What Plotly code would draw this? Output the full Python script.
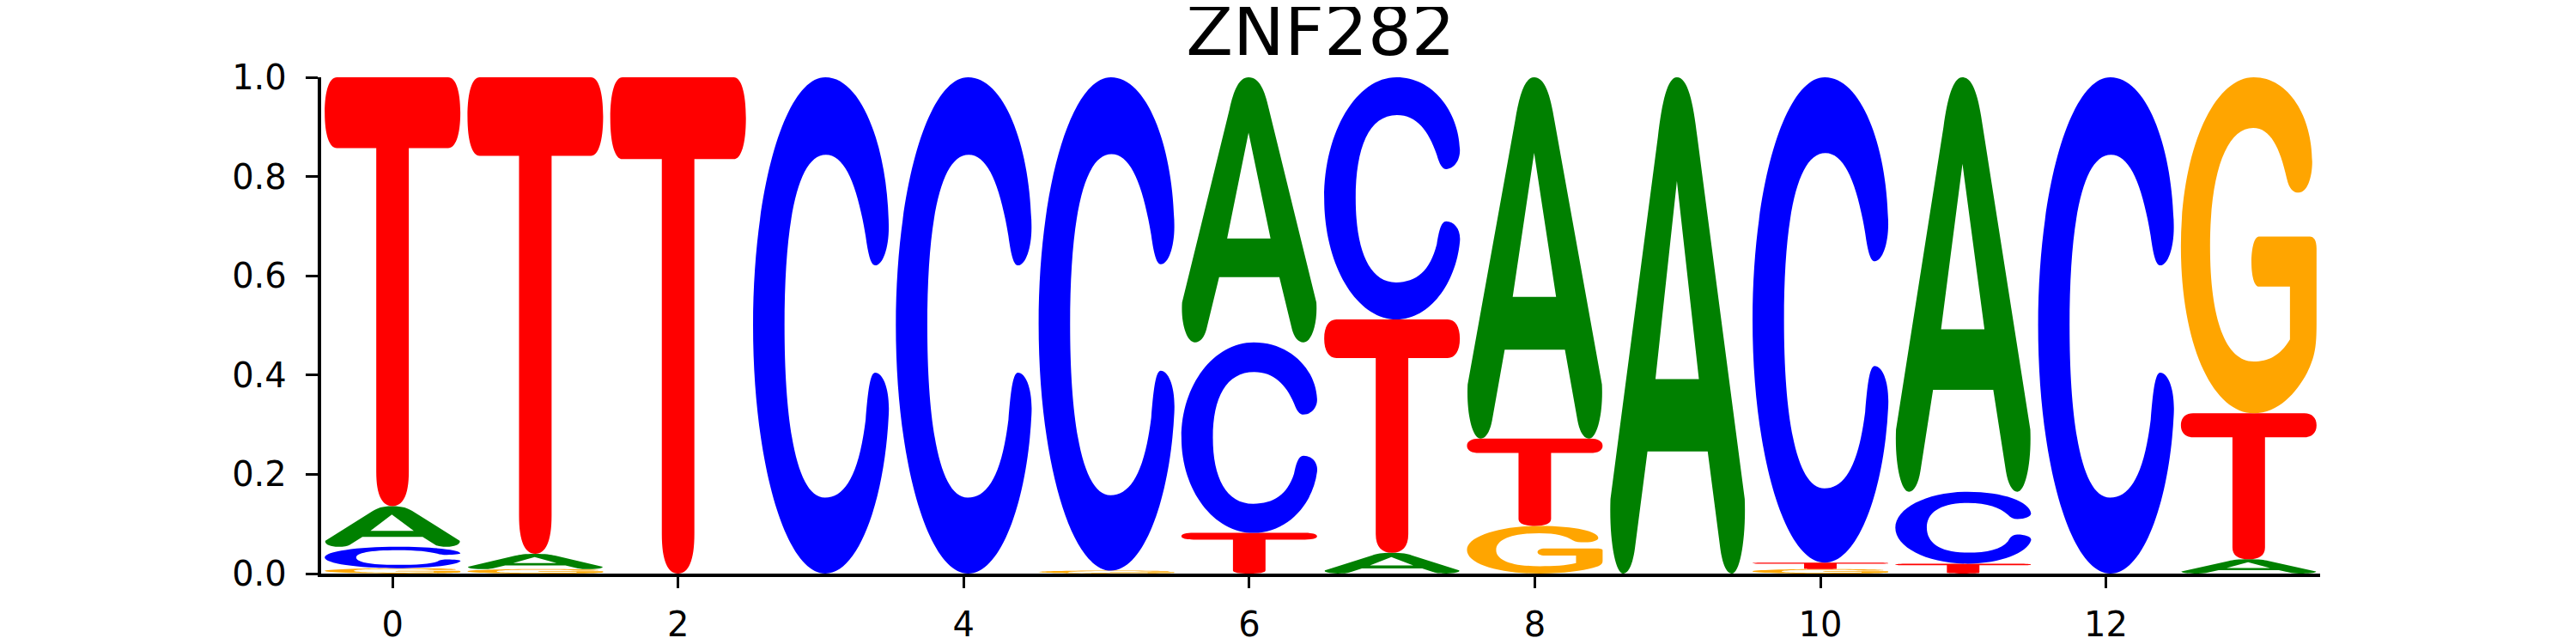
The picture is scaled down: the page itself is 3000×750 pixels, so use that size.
import plotly.graph_objects as go

# probability of each base at each position
positions = list(range(14))
bases = ['A', 'C', 'G', 'T']
prob_A = [0.082, 0.031, 0.000, 0.000, 0.000, 0.000, 0.534, 0.042, 0.728, 1.000, 0.000, 0.835, 0.000, 0.029]
prob_C = [0.043, 0.000, 0.000, 1.000, 1.000, 0.994, 0.384, 0.488, 0.000, 0.000, 0.978, 0.145, 1.000, 0.000]
prob_G = [0.011, 0.009, 0.000, 0.000, 0.000, 0.006, 0.000, 0.000, 0.096, 0.000, 0.009, 0.000, 0.000, 0.677]
prob_T = [0.864, 0.960, 1.000, 0.000, 0.000, 0.000, 0.082, 0.470, 0.176, 0.000, 0.013, 0.020, 0.000, 0.294]
x_ticks = [0, 2, 4, 6, 8, 10, 12]
y_ticks = [0.0, 0.2, 0.4, 0.6, 0.8, 1.0]
title = 'ZNF282'

probs = {'A': prob_A, 'C': prob_C, 'G': prob_G, 'T': prob_T}
colors = {'A': '#008000', 'C': '#0000ff', 'G': '#ffa500', 'T': '#ff0000'}
LETTER_W = 0.95

# glyph outlines in a unit box (u across, v up)
GLYPHS = {
    'T': [
        ('M', [(0.09, 1)]), ('L', [(0.91, 1)]),
        ('C', [(0.965, 1), (1, 0.97), (1, 0.9175)]),
        ('C', [(1, 0.865), (0.965, 0.835), (0.91, 0.835)]),
        ('L', [(0.62, 0.835)]), ('L', [(0.62, 0.08)]),
        ('C', [(0.62, 0.025), (0.575, 0), (0.5, 0)]),
        ('C', [(0.425, 0), (0.38, 0.025), (0.38, 0.08)]),
        ('L', [(0.38, 0.835)]), ('L', [(0.09, 0.835)]),
        ('C', [(0.035, 0.835), (0, 0.865), (0, 0.9175)]),
        ('C', [(0, 0.97), (0.035, 1), (0.09, 1)]),
        ('Z', []),
    ],
    'A': [
        ('M', [(0.495, 1)]),
        ('C', [(0.575, 1), (0.615, 0.95), (0.645, 0.88)]),
        ('L', [(0.995, 0.15)]),
        ('C', [(1.005, 0.07), (0.96, 0), (0.9, 0)]),
        ('C', [(0.86, 0), (0.83, 0.02), (0.815, 0.05)]),
        ('L', [(0.722, 0.246)]), ('L', [(0.278, 0.246)]), ('L', [(0.185, 0.05)]),
        ('C', [(0.17, 0.02), (0.14, 0), (0.1, 0)]),
        ('C', [(0.04, 0), (-0.005, 0.07), (0.005, 0.15)]),
        ('L', [(0.355, 0.88)]),
        ('C', [(0.385, 0.95), (0.425, 1), (0.495, 1)]),
        ('Z', []),
        ('M', [(0.495, 0.791)]), ('L', [(0.657, 0.392)]), ('L', [(0.337, 0.392)]),
        ('Z', []),
    ],
    'C': [
        ('M', [(0.533, 1)]),
        ('C', [(0.239, 1), (0, 0.776), (0, 0.5)]),
        ('C', [(0, 0.224), (0.239, 0), (0.533, 0)]),
        ('C', [(0.78, 0), (0.97, 0.15), (1, 0.32)]),
        ('C', [(1.01, 0.37), (0.96, 0.405), (0.9, 0.405)]),
        ('C', [(0.86, 0.405), (0.845, 0.36), (0.83, 0.31)]),
        ('C', [(0.78, 0.2), (0.68, 0.153), (0.53, 0.153)]),
        ('C', [(0.33, 0.153), (0.232, 0.29), (0.232, 0.5)]),
        ('C', [(0.232, 0.71), (0.33, 0.844), (0.537, 0.844)]),
        ('C', [(0.68, 0.844), (0.77, 0.78), (0.83, 0.68)]),
        ('C', [(0.85, 0.64), (0.87, 0.621), (0.9, 0.621)]),
        ('C', [(0.96, 0.621), (1.005, 0.66), (1, 0.704)]),
        ('C', [(0.99, 0.86), (0.8, 1), (0.533, 1)]),
        ('Z', []),
    ],
    'G': [
        ('M', [(0.537, 1)]),
        ('C', [(0.24, 1), (0, 0.78), (0, 0.497)]),
        ('C', [(0, 0.2), (0.24, 0), (0.537, 0)]),
        ('C', [(0.72, 0), (0.85, 0.06), (0.93, 0.12)]),
        ('C', [(0.99, 0.17), (1, 0.2), (1, 0.27)]),
        ('L', [(1, 0.49)]),
        ('C', [(1, 0.515), (0.98, 0.526), (0.95, 0.526)]),
        ('L', [(0.575, 0.526)]),
        ('C', [(0.54, 0.526), (0.52, 0.49), (0.52, 0.45)]),
        ('C', [(0.52, 0.41), (0.54, 0.377), (0.575, 0.377)]),
        ('L', [(0.804, 0.377)]), ('L', [(0.804, 0.22)]),
        ('C', [(0.73, 0.17), (0.64, 0.154), (0.537, 0.154)]),
        ('C', [(0.33, 0.154), (0.215, 0.28), (0.215, 0.497)]),
        ('C', [(0.215, 0.72), (0.34, 0.849), (0.533, 0.849)]),
        ('C', [(0.66, 0.849), (0.73, 0.79), (0.78, 0.70)]),
        ('C', [(0.80, 0.665), (0.83, 0.657), (0.869, 0.657)]),
        ('C', [(0.93, 0.657), (0.968, 0.70), (0.968, 0.749)]),
        ('C', [(0.968, 0.88), (0.8, 1), (0.537, 1)]),
        ('Z', []),
    ],
}


def glyph_path(letter, x0, y0, w, h):
    parts = []
    for cmd, pts in GLYPHS[letter]:
        coords = ' '.join(f'{x0 + u * w:.5f},{y0 + v * h:.5f}' for u, v in pts)
        parts.append(cmd + coords)
    return ' '.join(parts)


shapes = []
for i, pos in enumerate(positions):
    # smallest at the bottom, largest on top
    stack = sorted(((probs[b][i], b) for b in bases if probs[b][i] > 0))
    y0 = 0.0
    for h, b in stack:
        shapes.append(dict(
            type='path', xref='x', yref='y',
            path=glyph_path(b, pos - LETTER_W / 2, y0, LETTER_W, h),
            fillcolor=colors[b], line=dict(width=0),
            fillrule='evenodd', layer='above',
        ))
        y0 += h

fig = go.Figure()
fig.update_layout(
    width=3000, height=750,
    margin=dict(l=366, r=306, t=82, b=90),
    paper_bgcolor='white', plot_bgcolor='white',
    font=dict(family='DejaVu Sans', color='black', size=40),
    title=dict(text=title, x=0.5, xref='paper', xanchor='center',
               y=1, yref='container', yanchor='top',
               font=dict(size=80, family='DejaVu Sans', color='black')),
    shapes=shapes,
    showlegend=False,
)
fig.update_xaxes(
    range=[-0.5, 13.5], tickvals=x_ticks, ticktext=[str(t) for t in x_ticks],
    showgrid=False, zeroline=False, automargin=False,
    showline=True, linecolor='black', linewidth=4.4,
    ticks='outside', ticklen=13, tickwidth=3.3, tickcolor='black',
    ticklabelstandoff=8, tickfont=dict(size=40),
)
fig.update_yaxes(
    range=[0, 1], tickvals=y_ticks, ticktext=[f'{t:.1f}' for t in y_ticks],
    showgrid=False, zeroline=False, automargin=False,
    showline=True, linecolor='black', linewidth=4.4,
    ticks='outside', ticklen=14, tickwidth=3.3, tickcolor='black',
    ticklabelstandoff=14, tickfont=dict(size=40),
)

fig.write_html('out.html')
